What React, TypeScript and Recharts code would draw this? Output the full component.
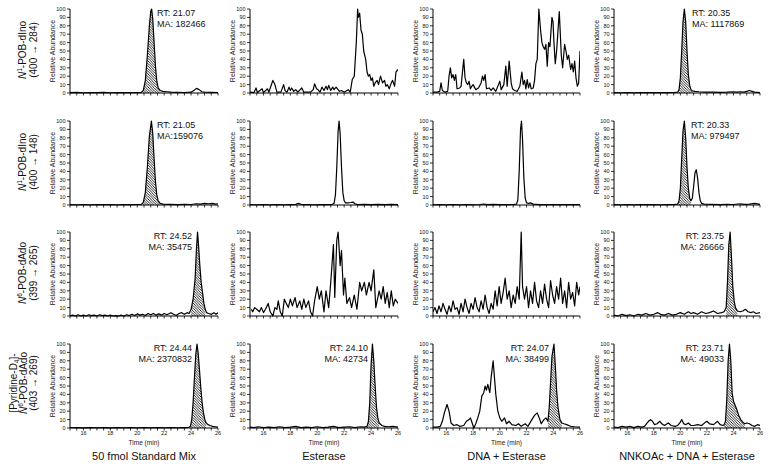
import React from 'react';
import { ComposedChart, Line, Area, XAxis, YAxis } from 'recharts';

type Pt = [number, number];

const timeTicks = [15, 15.5, 16, 16.5, 17, 17.5, 18, 18.5, 19, 19.5, 20, 20.5, 21, 21.5, 22, 22.5, 23, 23.5, 24, 24.5, 25, 25.5, 26];
const timeLabels = [16, 18, 20, 22, 24, 26];
const abundanceTicks = [0, 10, 20, 30, 40, 50, 60, 70, 80, 90, 100];

const columnTitles = ['50 fmol Standard Mix', 'Esterase', 'DNA + Esterase', 'NNKOAc + DNA + Esterase'];

// row 1: N1-POB-dIno (400 -> 284)
const ino284Std: Pt[] = [[15, 0.5], [15.5, 0.8], [16, 0.3], [16.5, 0.6], [17, 0.4], [17.5, 0.7], [18, 0.3], [18.5, 0.5], [19, 0.4], [19.5, 0.6], [20, 0.5], [20.3, 0.8], [20.45, 3], [20.6, 15], [20.75, 45], [20.9, 80], [21.0, 97], [21.07, 100], [21.15, 88], [21.25, 60], [21.35, 32], [21.45, 14], [21.55, 6], [21.7, 3], [21.9, 2], [22.2, 1.5], [22.5, 1], [23, 0.8], [23.5, 0.6], [24, 1], [24.2, 3], [24.4, 5.5], [24.6, 4], [24.8, 1.5], [25, 1], [25.5, 0.8], [26, 0.6]];
const ino284Est: Pt[] = [[15.0, 1], [15.3, 0.5], [15.45, 6], [15.55, 0.5], [15.9, 5], [16.0, 0.5], [16.3, 5], [16.4, 1], [16.55, 8], [16.7, 15], [16.85, 10], [17.0, 1], [17.3, 1], [17.5, 10], [17.6, 3], [17.75, 1], [17.9, 7], [18.0, 3], [18.1, 6], [18.25, 2], [18.4, 4], [18.55, 1], [18.85, 6], [19.0, 1], [19.5, 1], [19.7, 4], [19.8, 11], [19.95, 5], [20.05, 4], [20.2, 1], [20.35, 7], [20.5, 3], [20.65, 8], [20.75, 4], [20.85, 9], [21.0, 3], [21.15, 7], [21.25, 4], [21.4, 7], [21.5, 5], [21.65, 2], [21.8, 3], [22.0, 1], [22.3, 4], [22.45, 1], [22.6, 16], [22.75, 20], [22.9, 60], [23.0, 100], [23.05, 90], [23.15, 95], [23.25, 75], [23.35, 70], [23.45, 50], [23.6, 40], [23.7, 25], [23.8, 20], [23.9, 22], [24.0, 15], [24.1, 18], [24.2, 8], [24.3, 12], [24.45, 15], [24.55, 10], [24.7, 20], [24.85, 12], [25.0, 15], [25.1, 8], [25.2, 10], [25.35, 5], [25.5, 12], [25.6, 15], [25.75, 8], [25.85, 25], [26.0, 28]];
const ino284Dna: Pt[] = [[15.0, 1], [15.3, 1], [15.5, 2], [15.6, 12], [15.7, 3], [15.9, 1], [16.1, 2], [16.2, 20], [16.3, 30], [16.4, 18], [16.5, 22], [16.6, 15], [16.7, 22], [16.8, 5], [17.0, 6], [17.1, 8], [17.3, 40], [17.4, 18], [17.5, 12], [17.6, 10], [17.7, 14], [17.8, 5], [17.9, 8], [18.0, 10], [18.2, 4], [18.4, 6], [18.6, 12], [18.7, 20], [18.8, 15], [18.9, 22], [19.0, 5], [19.2, 6], [19.35, 3], [19.5, 6], [19.7, 2], [19.9, 10], [20.0, 14], [20.1, 4], [20.3, 10], [20.45, 32], [20.55, 8], [20.7, 38], [20.85, 12], [20.95, 5], [21.1, 3], [21.3, 2], [21.5, 8], [21.65, 25], [21.75, 10], [21.85, 15], [21.95, 5], [22.05, 16], [22.15, 6], [22.25, 12], [22.35, 5], [22.5, 6], [22.6, 15], [22.7, 35], [22.8, 40], [22.92, 100], [23.05, 75], [23.15, 60], [23.25, 55], [23.35, 52], [23.45, 58], [23.55, 32], [23.65, 60], [23.75, 55], [23.9, 90], [23.98, 85], [24.05, 60], [24.15, 35], [24.25, 50], [24.45, 97], [24.6, 45], [24.7, 30], [24.85, 58], [24.95, 50], [25.05, 40], [25.15, 45], [25.3, 28], [25.4, 35], [25.5, 25], [25.6, 38], [25.7, 18], [25.8, 8], [25.9, 12], [26.0, 50]];
const ino284Nnk: Pt[] = [[15, 0.5], [15.5, 0.3], [16, 0.5], [16.5, 0.3], [17, 0.5], [17.5, 0.4], [18, 0.6], [18.5, 0.4], [19, 0.5], [19.5, 0.6], [19.8, 1], [19.9, 4], [20.0, 18], [20.1, 50], [20.2, 85], [20.3, 100], [20.4, 85], [20.5, 50], [20.6, 22], [20.7, 9], [20.8, 4], [20.9, 2.5], [21.1, 2], [21.4, 1.5], [21.8, 1], [22.5, 1], [23, 0.8], [23.5, 1], [24.0, 1.5], [24.3, 1], [24.5, 1.5], [24.8, 1], [25.0, 2], [25.2, 3], [25.4, 2], [25.6, 1], [26, 0.5]];

// row 2: N1-POB-dIno (400 -> 148)
const ino148Std: Pt[] = [[15, 0.5], [15.5, 0.3], [16, 0.6], [16.5, 0.3], [17, 0.5], [17.5, 0.4], [18, 0.6], [18.5, 0.3], [19, 0.5], [19.5, 0.4], [20, 0.6], [20.3, 0.8], [20.45, 3], [20.6, 15], [20.75, 45], [20.9, 82], [21.05, 100], [21.15, 85], [21.25, 55], [21.35, 28], [21.45, 12], [21.55, 5], [21.7, 2], [21.9, 1], [22.5, 0.8], [23, 0.5], [23.5, 0.8], [24, 0.6], [24.4, 1.5], [24.7, 1], [25.0, 2], [25.3, 1.5], [25.6, 2], [25.8, 1], [26, 1.5]];
const ino148Est: Pt[] = [[15, 0.5], [15.5, 0.3], [16, 0.5], [16.5, 0.3], [17, 0.5], [17.5, 0.3], [18, 0.5], [18.4, 0.8], [18.6, 2], [18.8, 0.8], [19.2, 0.5], [19.7, 0.3], [20.2, 0.5], [20.7, 0.4], [21.1, 0.6], [21.25, 2], [21.35, 12], [21.45, 45], [21.55, 88], [21.62, 100], [21.7, 85], [21.8, 45], [21.9, 15], [22.0, 5], [22.1, 2.5], [22.3, 2.5], [22.5, 3], [22.65, 3.5], [22.8, 1.5], [23.0, 0.5], [23.5, 0.8], [24, 0.4], [24.5, 0.8], [25, 0.5], [25.5, 0.8], [26, 0.5]];
const ino148Dna: Pt[] = [[15, 0.3], [15.5, 0.5], [16, 0.3], [16.5, 0.5], [17, 0.3], [17.5, 0.5], [18, 0.3], [18.5, 0.6], [18.8, 1.2], [19.1, 0.5], [19.5, 0.8], [20, 0.4], [20.5, 0.5], [21, 0.6], [21.25, 1], [21.35, 6], [21.45, 40], [21.55, 90], [21.62, 100], [21.7, 78], [21.8, 32], [21.9, 8], [22.0, 2.5], [22.15, 2], [22.3, 2.5], [22.5, 1], [23, 0.5], [23.5, 0.4], [24, 0.6], [24.5, 0.4], [25, 0.6], [25.5, 0.5], [26, 0.4]];
const ino148Nnk: Pt[] = [[15, 0.5], [15.5, 0.3], [16, 0.5], [16.5, 0.3], [17, 0.5], [17.5, 0.4], [18, 0.5], [18.5, 0.3], [19, 0.5], [19.5, 0.6], [19.8, 1], [19.9, 5], [20.0, 20], [20.1, 55], [20.2, 88], [20.3, 100], [20.4, 80], [20.5, 45], [20.6, 20], [20.7, 8], [20.8, 5], [20.9, 8], [21.0, 22], [21.1, 38], [21.2, 42], [21.3, 32], [21.4, 15], [21.5, 5], [21.6, 2], [21.8, 1], [22.3, 0.8], [23, 0.5], [23.5, 0.8], [24, 0.6], [24.5, 1.5], [24.8, 0.8], [25.2, 1], [25.6, 2], [26, 0.8]];

// row 3: N6-POB-dAdo (399 -> 265)
const adoStd: Pt[] = [[15, 0], [15.2, 1], [15.4, 0], [15.6, 1.5], [15.8, 0], [16.0, 1], [16.2, 0], [16.4, 1.5], [16.6, 0.5], [16.8, 1], [17.0, 0], [17.2, 1.5], [17.4, 0.5], [17.6, 1], [17.8, 0], [18.0, 1], [18.2, 0], [18.4, 0.5], [18.6, 0], [18.8, 1], [19.0, 0], [19.2, 1.5], [19.4, 0.5], [19.6, 2], [19.8, 0.5], [20.0, 2.5], [20.2, 1], [20.4, 2], [20.6, 0.5], [20.8, 3], [21.0, 1.5], [21.2, 3], [21.4, 1], [21.6, 2.5], [21.8, 1], [22.0, 3], [22.2, 1.5], [22.4, 3], [22.5, 4], [22.7, 2], [22.9, 0.5], [23.1, 3], [23.3, 4], [23.5, 2], [23.7, 4], [23.85, 3], [24.0, 8], [24.15, 20], [24.3, 45], [24.4, 80], [24.48, 100], [24.55, 85], [24.65, 60], [24.75, 40], [24.85, 28], [24.95, 15], [25.05, 8], [25.15, 4], [25.3, 3], [25.5, 2], [25.7, 4], [25.85, 2], [26, 4]];
const adoEst: Pt[] = [[15.1, 8], [15.2, 5], [15.35, 10], [15.5, 8], [15.7, 5], [15.85, 10], [16.0, 4], [16.15, 8], [16.35, 15], [16.5, 5], [16.7, 0], [16.85, 10], [17.0, 8], [17.1, 18], [17.25, 5], [17.4, 0], [17.55, 20], [17.7, 15], [17.85, 10], [18.0, 20], [18.15, 12], [18.35, 22], [18.5, 10], [18.7, 18], [18.85, 8], [19.0, 20], [19.15, 10], [19.35, 18], [19.5, 5], [19.65, 0], [19.8, 18], [20.0, 35], [20.15, 20], [20.3, 30], [20.5, 5], [20.65, 30], [20.85, 10], [21.0, 40], [21.2, 85], [21.3, 22], [21.45, 90], [21.55, 100], [21.7, 60], [21.8, 78], [21.95, 25], [22.05, 45], [22.2, 15], [22.4, 22], [22.55, 10], [22.75, 25], [22.95, 8], [23.15, 40], [23.3, 30], [23.5, 40], [23.65, 25], [23.85, 40], [24.0, 30], [24.2, 55], [24.35, 10], [24.6, 30], [24.75, 20], [24.9, 35], [25.05, 15], [25.2, 28], [25.35, 10], [25.5, 30], [25.65, 12], [25.8, 20], [26.0, 15]];
const adoDna: Pt[] = [[15, 5], [15.15, 10], [15.3, 3], [15.45, 12], [15.6, 5], [15.75, 15], [15.9, 8], [16.05, 2], [16.2, 12], [16.35, 5], [16.5, 18], [16.65, 8], [16.8, 10], [16.95, 2], [17.1, 15], [17.25, 5], [17.4, 20], [17.55, 10], [17.7, 3], [17.85, 15], [18.0, 8], [18.15, 22], [18.3, 10], [18.45, 5], [18.6, 18], [18.75, 8], [18.9, 25], [19.05, 10], [19.2, 3], [19.35, 15], [19.5, 8], [19.65, 30], [19.8, 12], [19.95, 35], [20.1, 15], [20.25, 28], [20.4, 45], [20.55, 20], [20.7, 30], [20.85, 10], [21.0, 25], [21.15, 15], [21.3, 35], [21.45, 20], [21.6, 100], [21.7, 35], [21.85, 20], [22.0, 35], [22.15, 10], [22.3, 30], [22.45, 15], [22.6, 40], [22.75, 18], [22.9, 10], [23.05, 30], [23.2, 15], [23.35, 38], [23.5, 20], [23.65, 10], [23.8, 42], [23.95, 25], [24.1, 15], [24.25, 35], [24.4, 20], [24.55, 45], [24.7, 15], [24.85, 30], [25.0, 10], [25.15, 40], [25.3, 20], [25.45, 28], [25.6, 12], [25.75, 40], [25.9, 25], [26, 35]];
const adoNnk: Pt[] = [[15, 1], [15.3, 0], [15.6, 2], [15.9, 0.5], [16.2, 1.5], [16.5, 0], [16.8, 2], [17.1, 1], [17.4, 3], [17.7, 1], [18.0, 2], [18.3, 4], [18.5, 2], [18.8, 1], [19.1, 3], [19.4, 1], [19.7, 2], [20.0, 4], [20.3, 2], [20.6, 5], [20.8, 3], [21.0, 4], [21.3, 2], [21.6, 5], [21.9, 3], [22.2, 4], [22.5, 6], [22.8, 3], [23.1, 4], [23.3, 5], [23.45, 10], [23.55, 40], [23.65, 85], [23.75, 100], [23.85, 70], [23.95, 35], [24.05, 18], [24.15, 10], [24.3, 6], [24.5, 5], [24.7, 6], [24.9, 8], [25.1, 5], [25.3, 4], [25.5, 5], [25.7, 3], [26, 4]];

// row 4: [Pyridine-D4]-N6-POB-dAdo (403 -> 269)
const d4Std: Pt[] = [[15, 0.3], [15.5, 0.5], [16, 0.2], [16.5, 0.4], [17, 0.3], [17.5, 0.5], [18, 0.2], [18.5, 0.4], [19, 0.3], [19.5, 0.5], [20, 0.3], [20.5, 0.4], [21, 0.3], [21.5, 0.5], [22, 0.3], [22.5, 0.4], [23, 0.3], [23.5, 0.5], [23.8, 0.6], [23.95, 2], [24.05, 10], [24.15, 30], [24.25, 60], [24.35, 88], [24.44, 100], [24.52, 90], [24.62, 70], [24.72, 48], [24.82, 30], [24.92, 18], [25.02, 10], [25.12, 6], [25.25, 4], [25.4, 3], [25.6, 2], [25.8, 1.5], [26, 1]];
const d4Est: Pt[] = [[15, 1], [15.3, 0.5], [15.6, 1.5], [16, 0.5], [16.4, 1], [16.8, 0.5], [17.2, 1.5], [17.6, 0.5], [18, 1], [18.4, 2], [18.8, 0.5], [19.2, 1], [19.6, 0.5], [20, 1.5], [20.4, 0.5], [20.8, 1], [21.2, 2], [21.6, 0.5], [22, 1], [22.4, 1.5], [22.8, 0.5], [23.2, 1.5], [23.5, 1], [23.7, 2], [23.8, 8], [23.9, 30], [24.0, 75], [24.1, 100], [24.2, 80], [24.3, 50], [24.4, 25], [24.5, 12], [24.6, 6], [24.8, 3], [25.0, 2], [25.3, 1.5], [25.6, 2], [26, 1]];
const d4Dna: Pt[] = [[15, 1], [15.3, 1], [15.55, 2], [15.7, 8], [15.85, 18], [16.05, 28], [16.2, 20], [16.35, 6], [16.55, 3], [16.8, 4], [17.0, 2], [17.3, 3], [17.5, 8], [17.7, 10], [17.8, 12], [17.95, 5], [18.05, 0], [18.2, 5], [18.35, 12], [18.5, 20], [18.65, 38], [18.8, 42], [18.9, 50], [19.0, 45], [19.1, 52], [19.25, 42], [19.35, 60], [19.5, 80], [19.6, 60], [19.7, 40], [19.85, 20], [20.0, 12], [20.15, 8], [20.35, 12], [20.5, 5], [20.7, 8], [20.9, 4], [21.2, 3], [21.4, 5], [21.6, 2], [21.9, 5], [22.1, 2], [22.4, 10], [22.6, 15], [22.8, 18], [22.95, 12], [23.1, 5], [23.3, 10], [23.45, 12], [23.6, 8], [23.7, 25], [23.8, 55], [23.9, 85], [24.05, 100], [24.15, 75], [24.25, 45], [24.35, 25], [24.5, 10], [24.65, 6], [24.8, 5], [25.0, 4], [25.3, 2], [25.6, 1.5], [26, 1]];
const d4Nnk: Pt[] = [[15, 1], [15.3, 0.5], [15.6, 2], [15.9, 1], [16.2, 2], [16.5, 0.5], [16.8, 2], [17.1, 1], [17.3, 2], [17.5, 6], [17.6, 8], [17.75, 10], [17.9, 8], [18.05, 4], [18.25, 5], [18.45, 8], [18.6, 5], [18.8, 3], [19.0, 5], [19.1, 6], [19.3, 3], [19.6, 2], [19.8, 3], [20.0, 7], [20.1, 10], [20.25, 5], [20.4, 4], [20.6, 6], [20.8, 3], [21.0, 3], [21.3, 4], [21.6, 3], [21.9, 7], [22.0, 8], [22.2, 5], [22.5, 4], [22.8, 8], [23.0, 4], [23.2, 3], [23.3, 4], [23.4, 8], [23.5, 35], [23.6, 80], [23.7, 100], [23.8, 80], [23.9, 42], [24.0, 32], [24.1, 28], [24.25, 22], [24.4, 15], [24.55, 10], [24.7, 7], [24.85, 5], [25.0, 6], [25.2, 5], [25.4, 3], [25.6, 2], [25.8, 4], [26, 3]];

const traces: Pt[][][] = [
  [ino284Std, ino284Est, ino284Dna, ino284Nnk],
  [ino148Std, ino148Est, ino148Dna, ino148Nnk],
  [adoStd, adoEst, adoDna, adoNnk],
  [d4Std, d4Est, d4Dna, d4Nnk],
];

// integrated (hatched) peak windows, null = no hatching
const hatchWindows: ([number, number] | null)[][] = [
  [[20.4, 21.7], null, null, [19.85, 20.9]],
  [[20.4, 21.7], null, null, [19.85, 20.8]],
  [[23.9, 25.1], null, null, [23.4, 24.3]],
  [[23.9, 25.2], [23.7, 24.6], [23.6, 24.65], [23.3, 24.85]],
];

const notes = [
  { row: 0, col: 0, rt: 'RT: 21.07', ma: 'MA: 182466' },
  { row: 0, col: 3, rt: 'RT: 20.35', ma: 'MA: 1117869' },
  { row: 1, col: 0, rt: 'RT: 21.05', ma: 'MA:159076' },
  { row: 1, col: 3, rt: 'RT: 20.33', ma: 'MA: 979497' },
  { row: 2, col: 0, rt: 'RT: 24.52', ma: 'MA: 35475' },
  { row: 2, col: 3, rt: 'RT: 23.75', ma: 'MA: 26666' },
  { row: 3, col: 0, rt: 'RT: 24.44', ma: 'MA: 2370832' },
  { row: 3, col: 1, rt: 'RT: 24.10', ma: 'MA: 42734' },
  { row: 3, col: 2, rt: 'RT: 24.07', ma: 'MA: 38499' },
  { row: 3, col: 3, rt: 'RT: 23.71', ma: 'MA: 49033' },
];
const noteLayout = [
  { x: 157, anchor: 'start' },
  { x: 692, anchor: 'start' },
  { x: 157, anchor: 'start' },
  { x: 691, anchor: 'start' },
  { x: 192, anchor: 'end' },
  { x: 724, anchor: 'end' },
  { x: 192, anchor: 'end' },
  { x: 368, anchor: 'end' },
  { x: 549, anchor: 'end' },
  { x: 724, anchor: 'end' },
];

const colLeft = [70, 250, 433, 614];
const colWidth = [148, 148, 147, 146];
const rowTop = [9, 121, 232, 344];
const plotH = 84;
const font = "'Liberation Sans', Arial, sans-serif";

function Panel({ row, col }: { row: number; col: number }) {
  const win = hatchWindows[row][col];
  const data = traces[row][col].map(([t, v]) => ({
    t,
    v,
    h: win && t >= win[0] && t <= win[1] ? v : null,
  }));
  const bottom = row === 3;
  return (
    <div style={{ position: 'absolute', left: colLeft[col] - 32, top: rowTop[row] - 6 }}>
      <ComposedChart
        width={32 + colWidth[col] + 8}
        height={6 + plotH + 12}
        data={data}
        margin={{ top: 6, right: 8, left: 0, bottom: 0 }}
        style={{ fontFamily: font }}
      >
        <XAxis
          type="number"
          dataKey="t"
          domain={[15, 26]}
          ticks={timeTicks}
          interval={0}
          allowDataOverflow
          height={12}
          tickSize={2.5}
          tickMargin={1}
          axisLine={{ stroke: '#000', strokeWidth: 1 }}
          tickLine={{ stroke: '#000', strokeWidth: 0.8 }}
          tick={{ fontSize: 5.5, fill: '#111' }}
          tickFormatter={(v: number) => (bottom && timeLabels.includes(v) ? String(v) : '')}
        />
        <YAxis
          type="number"
          domain={[0, 100]}
          ticks={abundanceTicks}
          interval={0}
          width={32}
          tickSize={3}
          tickMargin={1.5}
          axisLine={{ stroke: '#000', strokeWidth: 1 }}
          tickLine={{ stroke: '#000', strokeWidth: 0.8 }}
          tick={{ fontSize: 5.5, fill: '#111' }}
        />
        {win && (
          <Area
            dataKey="h"
            type="linear"
            fill="url(#hatch)"
            fillOpacity={1}
            stroke="none"
            connectNulls={false}
            dot={false}
            activeDot={false}
            isAnimationActive={false}
          />
        )}
        <Line
          dataKey="v"
          type="linear"
          stroke="#000"
          strokeWidth={1.2}
          strokeLinejoin="round"
          dot={false}
          activeDot={false}
          isAnimationActive={false}
        />
      </ComposedChart>
    </div>
  );
}

function RowLabels() {
  const fs = 10;
  const sub = 6.5;
  const rot = (x: number, y: number) => `rotate(-90 ${x} ${y})`;
  return (
    <g fontSize={fs} fill="#111" textAnchor="middle">
      {[50, 162].map((cy, i) => (
        <g key={i}>
          <text x={26} y={cy} transform={rot(26, cy)}>
            <tspan fontStyle="italic">N</tspan>
            <tspan dy={-4} fontSize={sub}>1</tspan>
            <tspan dy={4}>-POB-dIno</tspan>
          </text>
          <text x={37} y={cy} transform={rot(37, cy)}>
            {i === 0 ? '(400 → 284)' : '(400 → 148)'}
          </text>
        </g>
      ))}
      <text x={26} y={273} transform={rot(26, 273)}>
        <tspan fontStyle="italic">N</tspan>
        <tspan dy={-4} fontSize={sub}>6</tspan>
        <tspan dy={4}>-POB-dAdo</tspan>
      </text>
      <text x={37} y={273} transform={rot(37, 273)}>(399 → 265)</text>
      <text x={16.5} y={383} transform={rot(16.5, 383)}>
        <tspan>[Pyridine-D</tspan>
        <tspan dy={2.5} fontSize={sub}>4</tspan>
        <tspan dy={-2.5}>]-</tspan>
      </text>
      <text x={26.5} y={383} transform={rot(26.5, 383)}>
        <tspan fontStyle="italic">N</tspan>
        <tspan dy={-4} fontSize={sub}>6</tspan>
        <tspan dy={4}>-POB-dAdo</tspan>
      </text>
      <text x={37} y={383} transform={rot(37, 383)}>(403 → 269)</text>
    </g>
  );
}

export default function App() {
  const cells: { row: number; col: number }[] = [];
  for (let r = 0; r < 4; r++) for (let c = 0; c < 4; c++) cells.push({ row: r, col: c });
  return (
    <div
      style={{
        position: 'absolute',
        left: 0,
        top: 0,
        width: 771,
        height: 467,
        background: '#fff',
        fontFamily: font,
        overflow: 'hidden',
      }}
    >
      <svg width={0} height={0} style={{ position: 'absolute' }}>
        <defs>
          <pattern id="hatch" width={2.6} height={2.6} patternUnits="userSpaceOnUse">
            <rect width={2.6} height={2.6} fill="#fff" />
            <path d="M0,0 L2.6,2.6 M-1,1.6 L1,3.6 M1.6,-1 L3.6,1" stroke="#000" strokeWidth={0.85} />
          </pattern>
        </defs>
      </svg>
      {cells.map((p) => (
        <Panel key={`${p.row}-${p.col}`} row={p.row} col={p.col} />
      ))}
      <svg
        width={771}
        height={467}
        style={{ position: 'absolute', left: 0, top: 0, pointerEvents: 'none', fontFamily: font }}
      >
        <RowLabels />
        {cells.map((p) => {
          const x = colLeft[p.col] - 15.5;
          const cy = rowTop[p.row] + plotH / 2;
          return (
            <text
              key={`ya-${p.row}-${p.col}`}
              x={x}
              y={cy}
              transform={`rotate(-90 ${x} ${cy})`}
              textAnchor="middle"
              fontSize={7}
              fill="#222"
            >
              Relative Abundance
            </text>
          );
        })}
        {colLeft.map((left, c) => (
          <text
            key={`tm-${c}`}
            x={left + colWidth[c] / 2}
            y={445}
            textAnchor="middle"
            fontSize={6.5}
            fill="#222"
          >
            Time (min)
          </text>
        ))}
        {columnTitles.map((title, c) => (
          <text
            key={`ct-${c}`}
            x={colLeft[c] + colWidth[c] / 2}
            y={460}
            textAnchor="middle"
            fontSize={11}
            fill="#111"
          >
            {title}
          </text>
        ))}
        {notes.map((n, i) => {
          const lay = noteLayout[i];
          const y = rowTop[n.row] + 7;
          return (
            <g key={`note-${i}`} fontSize={9} fill="#111" textAnchor={lay.anchor}>
              <text x={lay.x} y={y}>{n.rt}</text>
              <text x={lay.x} y={y + 11}>{n.ma}</text>
            </g>
          );
        })}
      </svg>
    </div>
  );
}
